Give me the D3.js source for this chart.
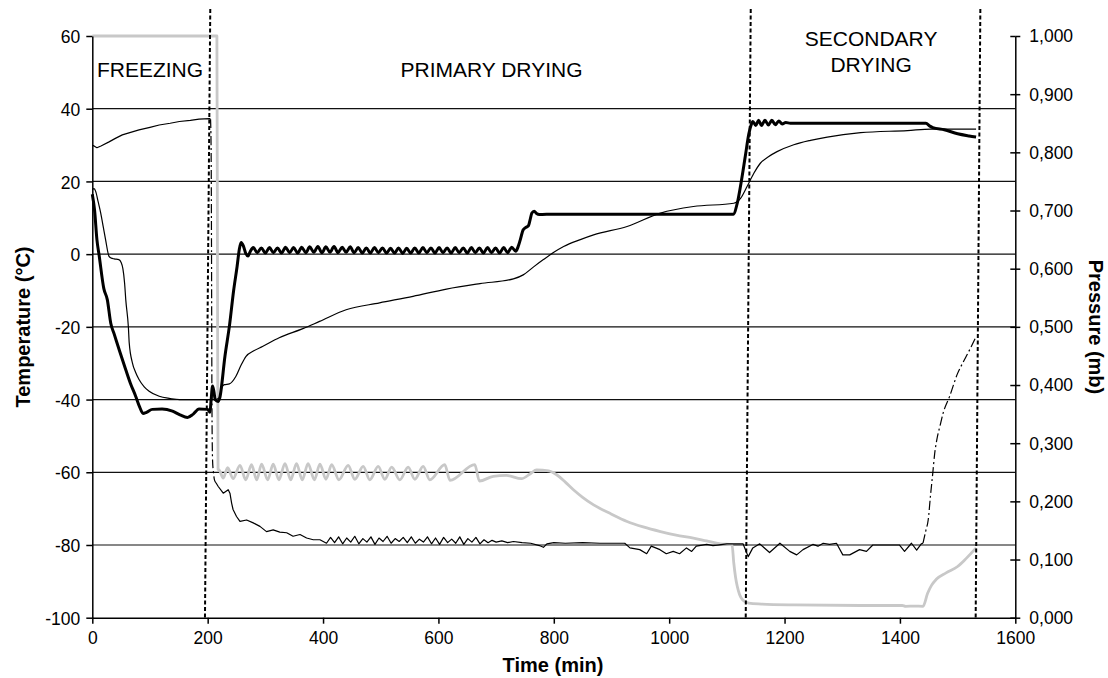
<!DOCTYPE html>
<html><head><meta charset="utf-8">
<script src="https://cdn.jsdelivr.net/npm/d3@7"></script>
<style>body{margin:0;background:#fff}svg{display:block}</style>
</head><body>
<svg id="chart" width="1108" height="678"></svg>
<script>
// ---------- data ----------
const timeTicks = [0, 200, 400, 600, 800, 1000, 1200, 1400, 1600];
const tempTicks = [-100, -80, -60, -40, -20, 0, 20, 40, 60];
const pressureTicks = [0, 0.1, 0.2, 0.3, 0.4, 0.5, 0.6, 0.7, 0.8, 0.9, 1.0];
const gridTemps = [-80, -60, -40, -20, 0, 20, 40];
const phaseLabels = ["FREEZING", "PRIMARY DRYING", "SECONDARY", "DRYING"];
// [time at top, time at bottom] of the hand-drawn phase separators
const phaseBoundaries = [[204.5, 195.3], [1141.4, 1132.7], [1539.4, 1531.3]];

// shelf temperature (thick black, °C)
const shelfTemp = [
  [0,16.5],[4,12],[8,4],[12,-0.5],[20,-9.5],[26,-12.5],[32,-19],[38,-22],[48,-27],[58,-31.8],
  [66,-35.5],[75,-39],[82,-42],[88,-43.8],[94,-43.5],[104,-42.7],[121,-42.6],[139,-43.2],[152,-44.2],
  [165,-44.9],[175,-44],[185,-42.6],[200,-42.7],[204,-43.5],[206,-40],[208.5,-36.3],[211,-38],[213,-40],
  [218,-40.5],[221,-39.5],[230,-28],[238,-19.4],[245,-10],[251,-3.4],[255,1.5],[258,3.2],[262,2.2],
  [266,0.2],[270,-0.5],[274,0.8],
  [279,1.8],[286,0.4],[293,1.7],[300,0.3],[307,1.8],[314,0.4],[321,1.7],[328,0.3],[335,1.9],[342,0.4],
  [349,1.8],[356,0.3],[363,1.9],[370,0.4],[377,2.0],[384,0.5],[391,2.1],[398,0.4],[405,2.0],[412,0.5],
  [419,2.1],[426,0.4],[433,1.9],[440,0.5],[447,2.0],[454,0.4],[461,1.8],[468,0.3],[475,1.7],[482,0.3],
  [489,1.8],[496,0.4],[503,1.7],[510,0.3],[517,1.6],[524,0.3],[531,1.7],[538,0.2],[545,1.6],[552,0.3],
  [559,1.7],[566,0.3],[573,1.8],[580,0.4],[587,1.7],[594,0.3],[601,1.8],[608,0.4],[615,1.7],[622,0.3],
  [629,1.8],[636,0.4],[643,1.7],[650,0.3],[657,1.8],[664,0.4],[671,1.7],[678,0.3],[685,1.8],[692,0.4],
  [699,1.7],[706,0.3],[713,1.8],[720,0.4],[727,1.9],[734,0.8],
  [738,2],[742,4],[747,6.7],[752,7.4],[756,7.8],[759,9.5],[762,11.3],[766,11.8],[770,11.2],[775,10.9],
  [800,11],[900,11],[1000,11],[1111,11],[1118,14],[1125,20],[1132,27],[1138,33],[1142,35.5],[1145,36.5],
  [1150,35.4],[1155,36.8],[1160,35.4],[1166,36.8],[1172,35.5],[1178,36.8],[1184,35.6],[1190,36.6],
  [1196,35.8],[1202,36.2],[1210,36],[1300,36],[1400,36],[1445,36],[1452,35.2],[1457,34.8],[1477,34.2],
  [1500,33.1],[1520,32.5],[1532,32.2]
];

// product temperature (thin black, °C)
const productTemp = [
  [0,17.7],[3,18],[6,17.2],[10,14.5],[14.6,11.3],[19,7.5],[23,4],[29,-0.6],[33,-1.1],[38,-1.3],[46,-1.5],
  [50,-2.3],[53,-4],[56,-8],[58,-12.5],[62.6,-20.2],[64,-24.4],[69.5,-29.9],[75,-32.5],[81,-34.5],
  [90,-36.5],[98.5,-37.7],[116,-39.1],[135,-39.7],[151,-40],[205,-40],[213,-40],[220,-39.6],[225,-36.5],
  [229,-35.9],[237.6,-35.7],[249,-33.6],[258,-30.5],[266.5,-28.1],[280,-26.6],[295,-25.4],[324,-23],
  [365,-20.5],[394,-18.5],[440,-15.3],[498,-13.4],[556,-11.6],[614,-9.6],[672,-8.1],[730,-6.8],[747,-5.7],
  [765,-3.5],[782,-1.5],[800,0.5],[817,2.1],[846,4],[869,5.3],[927,7.6],[985,11.3],[1042,13.1],[1112,14],
  [1124,15.4],[1135,18.6],[1147,22.3],[1158,25],[1172,26.8],[1187,28.2],[1216,30.1],[1245,31.3],
  [1274,32.2],[1332,33.4],[1413,34],[1454,34.4],[1532,34.4]
];

// chamber pressure, capacitance gauge (thin black, mb)
const chamberPressureFreezing = [
  [0,0.812],[3,0.811],[8,0.808],[15,0.811],[29,0.818],[40,0.824],[52,0.830],[65,0.834],[81,0.8385],
  [100,0.843],[116,0.847],[135,0.850],[151,0.853],[170,0.855],[185,0.857],[203,0.858],[205,0.857]
];
const chamberPressureDrop = [
  [205,0.857],[206,0.80],[206.6,0.65],[207,0.5],[207.5,0.35],[208.5,0.27],[210,0.25],[212,0.236],[214.4,0.232]
];
const chamberPressureDrying = [
  [214.4,0.232],[218,0.226],[227,0.214],[235.6,0.22],[238.6,0.214],[241.5,0.197],[244,0.186],[250,0.174],
  [256,0.1655],[267.5,0.168],[279,0.163],[290.6,0.157],[302,0.148],[313.6,0.151],[325,0.147],[337,0.146],
  [348,0.14],[360,0.143],[371.5,0.137],[383,0.134],[394.6,0.134],
  [406,0.128],[413,0.138],[420,0.129],[427,0.139],[434,0.127],[441,0.137],[448,0.130],[455,0.140],
  [462,0.127],[469,0.136],[476,0.130],[483,0.139],[490,0.126],[497,0.137],[504,0.131],[511,0.140],
  [518,0.128],[525,0.136],[532,0.131],[539,0.138],[546,0.129],[553,0.139],[560,0.128],[567,0.135],
  [574,0.130],[581,0.139],[588,0.127],[595,0.137],[602,0.126],[609,0.138],[616,0.129],[623,0.135],
  [630,0.128],[637,0.139],[644,0.126],[651,0.136],[658,0.130],[665,0.138],[672,0.127],[679,0.134],
  [686,0.129],[693,0.133],[700,0.130],[710,0.132],[720,0.129],[730,0.131],[745,0.129],[760,0.128],
  [775,0.124],[782,0.121],[788,0.127],[800,0.129],[820,0.128],[850,0.129],[880,0.128],[923,0.128],
  [932,0.12],[949,0.117],[961,0.11],[969,0.123],[984,0.117],[995,0.11],[1007,0.114],[1018,0.11],
  [1030,0.12],[1039,0.114],[1047,0.123],[1065,0.126],[1076,0.124],[1100,0.127],[1128,0.127],
  [1137,0.105],[1145,0.12],[1157,0.127],[1174,0.112],[1192,0.128],[1209,0.114],[1221,0.108],
  [1232,0.117],[1249,0.126],[1258,0.123],[1267,0.128],[1278,0.126],[1290,0.128],[1301,0.108],
  [1313,0.108],[1330,0.117],[1342,0.114],[1353,0.125],[1399,0.125],[1408,0.114],[1420,0.128],
  [1429,0.116],[1437,0.127],[1440,0.128]
];
const chamberPressureRise = [
  [1440,0.128],[1445,0.15],[1449,0.168],[1453,0.21],[1457,0.249],[1460,0.28],[1464,0.306],[1470,0.332],
  [1475,0.352],[1486,0.38],[1500,0.42],[1510,0.44],[1518,0.455],[1532,0.483]
];

// Pirani pressure (grey, mb)
const piraniPressure = [
  [0,1.0],[216,1.0],[217,0.6],[218,0.255],[220,0.254],[227,0.24],[234.6,0.258],[244,0.239],[256,0.262],
  [266,0.237],[276,0.263],[285,0.237],[293.5,0.264],[304,0.237],[313.6,0.264],[323.5,0.237],[334,0.265],
  [344,0.237],[354,0.265],[364,0.237],[374,0.265],[385,0.237],[394.6,0.264],[405,0.238],[415,0.263],
  [427.5,0.237],[443.6,0.262],[455,0.238],[469.6,0.26],[481,0.237],[495.6,0.26],[507,0.238],[519,0.259],
  [533,0.237],[547.6,0.259],[559,0.238],[573.6,0.26],[585,0.237],[611,0.263],[620,0.236],[663,0.263],
  [671,0.235],[695,0.243],[718,0.2445],[744,0.239],[760,0.248],[770,0.254],[791,0.2525],[805,0.2457],
  [820,0.233],[834,0.22],[850,0.207],[869,0.194],[900,0.178],[927,0.1655],[955,0.156],[985,0.148],
  [1012,0.142],[1042,0.137],[1065,0.132],[1089,0.127],[1109,0.1254],[1112,0.094],[1115,0.07],[1118,0.054],
  [1122,0.04],[1127,0.031],[1133,0.027],[1138,0.025],[1160,0.0235],[1216,0.022],[1332,0.021],[1404,0.021],
  [1410,0.0195],[1425,0.02],[1440,0.0195],[1448,0.042],[1455,0.056],[1463,0.066],[1480,0.077],
  [1500,0.088],[1515,0.102],[1532,0.12]
];

// ---------- drawing ----------
const FONT = "'Liberation Sans', Arial, Helvetica, sans-serif";
const svg = d3.select("#chart").style("font-family", FONT);
const x = d3.scaleLinear().domain([0, 1600]).range([92.3, 1015.3]);
const yT = d3.scaleLinear().domain([-100, 60]).range([617.7, 36]);
const yP = d3.scaleLinear().domain([0, 1]).range([617.7, 36]);
const comma = d3.formatLocale({decimal: ",", thousands: ".", grouping: [3], currency: ["", ""], minus: "-"});

// gridlines
svg.append("g").selectAll("line").data(gridTemps).join("line")
  .attr("x1", x(0)).attr("x2", x(1600))
  .attr("y1", d => yT(d)).attr("y2", d => yT(d))
  .attr("stroke", "#111").attr("stroke-width", 1.2);

const smoothP = d3.line().x(d => x(d[0])).y(d => yP(d[1])).curve(d3.curveMonotoneX);
const straightP = d3.line().x(d => x(d[0])).y(d => yP(d[1]));
const smoothT = d3.line().x(d => x(d[0])).y(d => yT(d[1])).curve(d3.curveMonotoneX);

// grey Pirani pressure
svg.append("path").datum(piraniPressure)
  .attr("d", smoothP)
  .attr("fill", "none").attr("stroke", "#c8c8c8").attr("stroke-width", 2.8).attr("stroke-linejoin", "round");

// chamber pressure (thin black)
[chamberPressureFreezing, chamberPressureDrying].forEach(seg => {
  svg.append("path").datum(seg).attr("d", straightP)
    .attr("fill", "none").attr("stroke", "#000").attr("stroke-width", 1.2).attr("stroke-linejoin", "round");
});
[chamberPressureDrop, chamberPressureRise].forEach(seg => {
  svg.append("path").datum(seg).attr("d", smoothP)
    .attr("fill", "none").attr("stroke", "#000").attr("stroke-width", 1.2)
    .attr("stroke-dasharray", "9,3,2,3");
});

// product temperature (thin)
svg.append("path").datum(productTemp)
  .attr("d", smoothT)
  .attr("fill", "none").attr("stroke", "#000").attr("stroke-width", 1.2);

// shelf temperature (thick)
svg.append("path").datum(shelfTemp)
  .attr("d", smoothT)
  .attr("fill", "none").attr("stroke", "#000").attr("stroke-width", 3).attr("stroke-linejoin", "round");

// phase separators
svg.append("g").selectAll("line").data(phaseBoundaries).join("line")
  .attr("x1", d => x(d[0])).attr("x2", d => x(d[1]))
  .attr("y1", 9).attr("y2", yT(-100))
  .attr("stroke", "#000").attr("stroke-width", 2).attr("stroke-dasharray", "4,2.5");

// axes
const axisStyle = g => {
  g.selectAll(".domain").attr("stroke", "#000").attr("stroke-width", 1.5);
  g.selectAll(".tick line").attr("stroke", "#000").attr("stroke-width", 1.5);
  g.selectAll("text").attr("font-size", "17.5px").attr("fill", "#000").style("font-family", FONT);
};
svg.append("g").attr("transform", `translate(0,${yT(-100)})`)
  .call(d3.axisBottom(x).tickValues(timeTicks).tickSizeInner(6).tickSizeOuter(0).tickPadding(8).tickFormat(d => String(d)))
  .call(axisStyle);
svg.append("g").attr("transform", `translate(${x(0)},0)`)
  .call(d3.axisLeft(yT).tickValues(tempTicks).tickSizeInner(6).tickSizeOuter(0).tickPadding(6).tickFormat(d => String(d)))
  .call(axisStyle)
  .call(g => g.selectAll("text").attr("dy", "0.38em"));
const gR = svg.append("g").attr("transform", `translate(${x(1600)},0)`)
  .call(d3.axisRight(yP).tickValues(pressureTicks).tickSizeInner(5).tickSizeOuter(0).tickPadding(9).tickFormat(comma.format(".3f")))
  .call(axisStyle)
  .call(g => g.selectAll("text").attr("dy", "0.34em"));
gR.selectAll(".tick").append("line").attr("x1", -5).attr("x2", 0).attr("stroke", "#000").attr("stroke-width", 1.5);

// axis titles
svg.append("text").attr("x", 553).attr("y", 672).attr("text-anchor", "middle")
  .attr("font-size", "20px").attr("font-weight", "bold").text("Time (min)");
svg.append("text").attr("transform", "translate(29.5,327) rotate(-90)").attr("text-anchor", "middle")
  .attr("font-size", "20px").attr("font-weight", "bold").text("Temperature (°C)");
svg.append("text").attr("transform", "translate(1088.5,327) rotate(90)").attr("text-anchor", "middle")
  .attr("font-size", "20px").attr("font-weight", "bold").text("Pressure (mb)");

// phase annotations
svg.append("text").attr("x", x(8)).attr("y", 77).attr("font-size", "21px").text(phaseLabels[0]);
svg.append("text").attr("x", x(692)).attr("y", 77).attr("text-anchor", "middle").attr("font-size", "21px").text(phaseLabels[1]);
svg.append("text").attr("x", x(1350)).attr("y", 46).attr("text-anchor", "middle").attr("font-size", "21px").text(phaseLabels[2]);
svg.append("text").attr("x", x(1350)).attr("y", 72).attr("text-anchor", "middle").attr("font-size", "21px").text(phaseLabels[3]);
</script>
</body></html>
